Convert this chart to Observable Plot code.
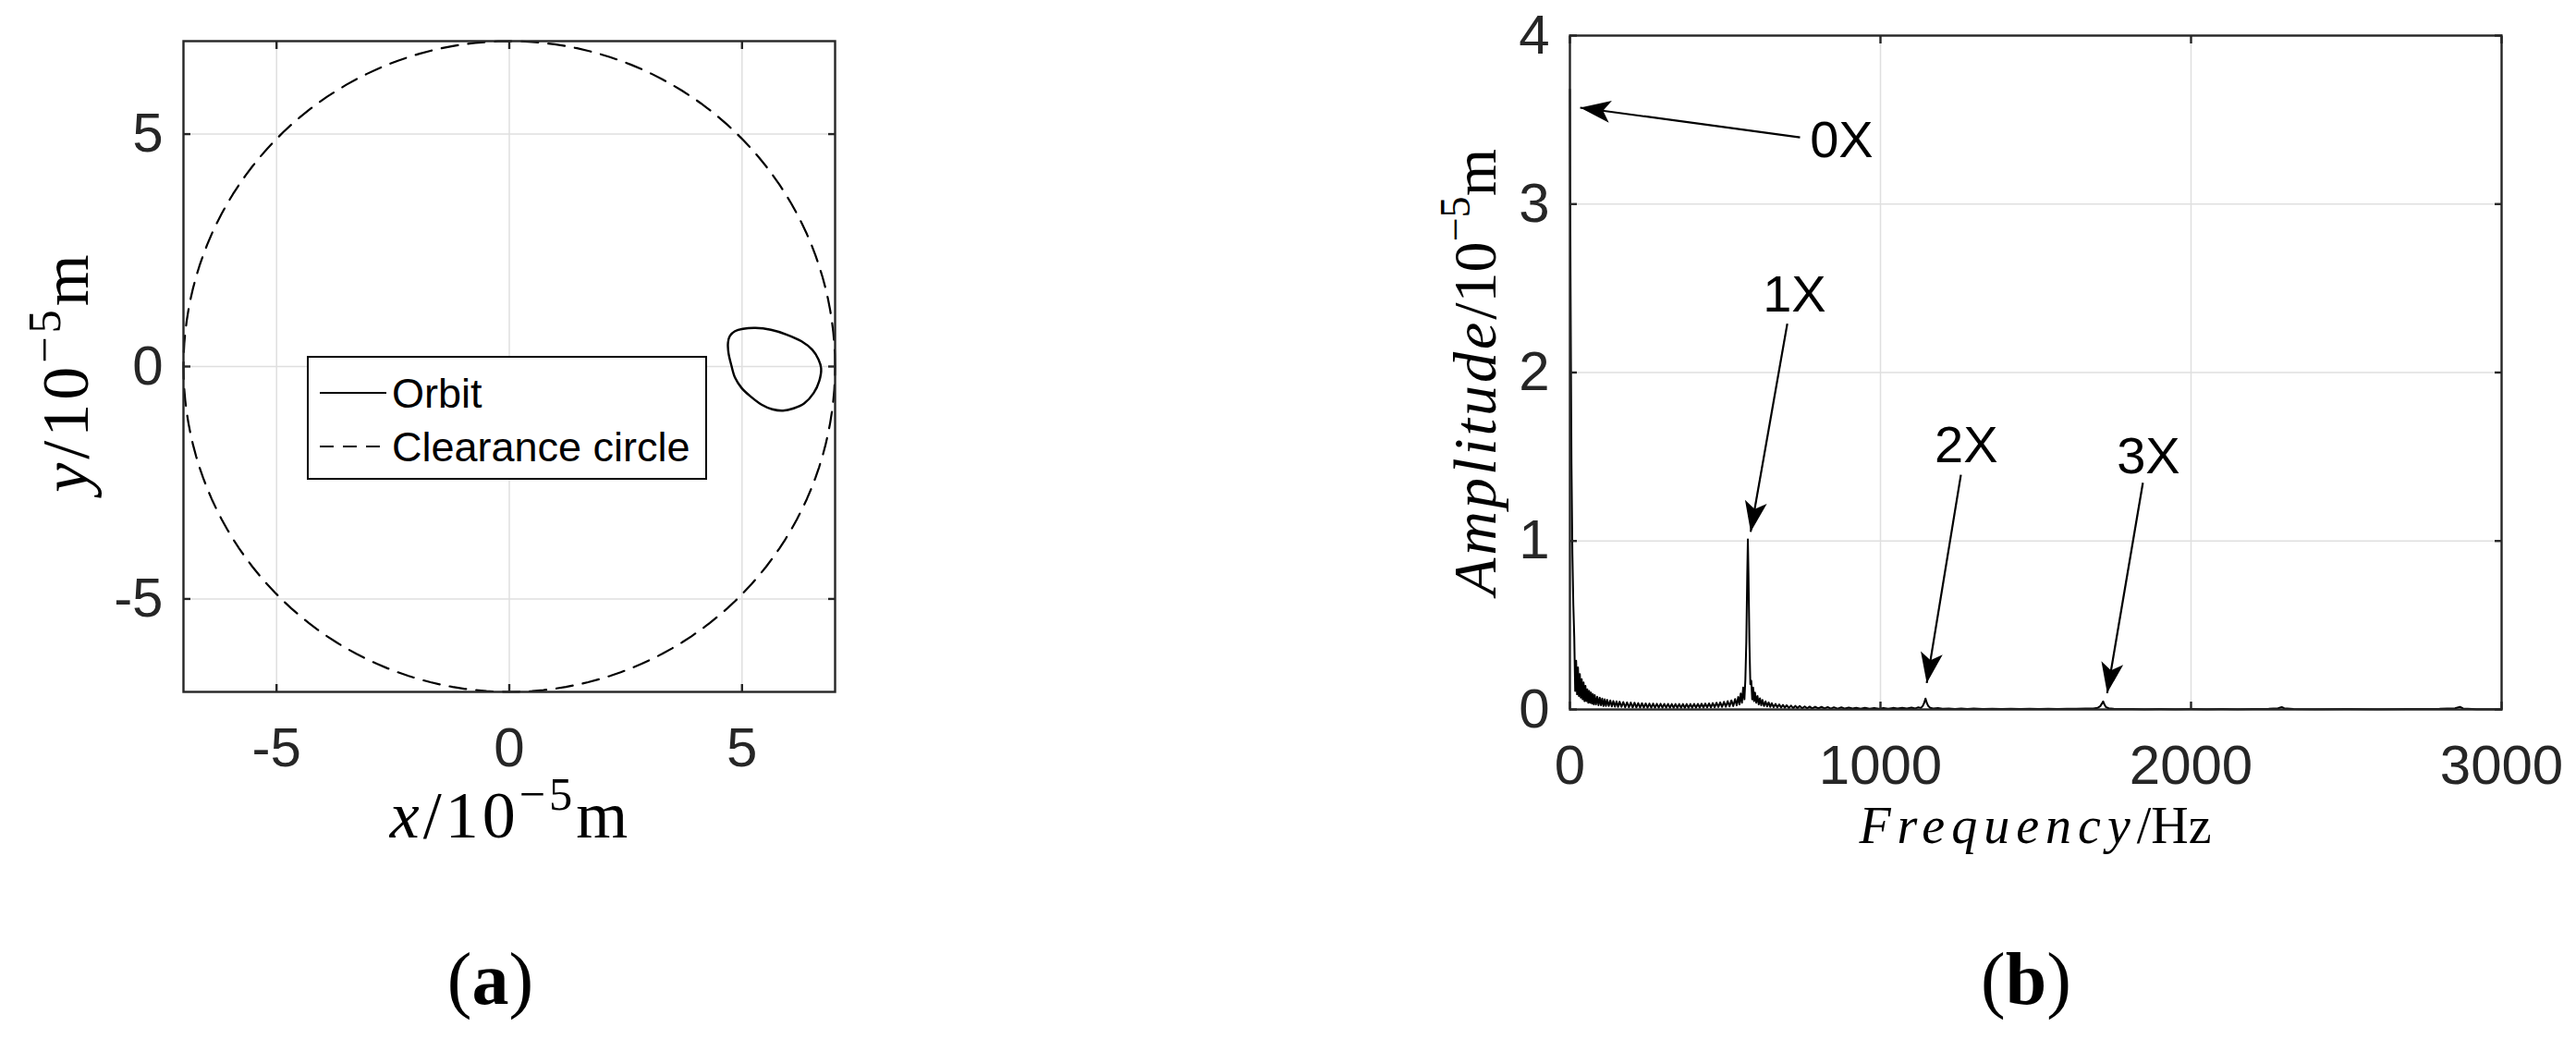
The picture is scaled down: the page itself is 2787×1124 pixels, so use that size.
<!DOCTYPE html>
<html><head><meta charset="utf-8">
<script src="https://cdn.jsdelivr.net/npm/d3@7"></script>
<script src="https://cdn.jsdelivr.net/npm/@observablehq/plot@0.6"></script>
<style>
body{margin:0;background:#fff;}
#fig{position:relative;width:2787px;height:1124px;background:#fff;overflow:hidden;}
#fig > svg{position:absolute;}
</style></head><body><div id="fig"></div>
<script>
// ---------------- data ----------------
// (a) rotor orbit (x, y in 1e-5 m)
const orbitX = [4.70, 4.74, 4.85, 5.02, 5.29, 5.62, 5.95, 6.28, 6.51, 6.64, 6.70, 6.66, 6.54, 6.34, 6.11, 5.88, 5.65, 5.42, 5.19, 4.99, 4.85, 4.77, 4.71];
const orbitY = [0.52, 0.66, 0.76, 0.81, 0.83, 0.79, 0.69, 0.54, 0.36, 0.16, -0.04, -0.31, -0.57, -0.79, -0.90, -0.95, -0.92, -0.82, -0.65, -0.46, -0.24, 0.03, 0.29];
const clearanceRadius = 7;
const ticksA = [-5, 0, 5];
const domainA = [-7, 7];
const legendLabels = ["Orbit", "Clearance circle"];

// (b) amplitude spectrum (Hz, 1e-5 m)
const specFreq = [0,2,5,8,11,14,17,20,23,26,29,32,35,38,41,44,47,50,53,56,59,62,65,68,71,74,77,80,84,88,92,96,100,104,108,112,116,120,125,130,135,140,145,150,155,160,166,172,178,184,190,196,202,208,214,220,226,232,238,244,250,256,262,268,274,280,286,292,298,304,310,316,322,328,334,340,346,352,358,364,370,376,382,388,394,400,406,412,418,424,430,436,442,448,454,460,466,472,478,484,490,496,502,508,514,520,526,532,537,542,546,550,554,558,562,565,568,571,573,575,578,581,584,587,590,593,596,600,604,608,612,616,620,625,630,635,640,645,650,656,662,668,674,680,686,692,698,705,712,719,726,733,740,748,756,764,772,780,790,800,810,820,830,840,850,862,874,886,898,910,922,936,950,965,980,995,1010,1025,1040,1055,1070,1085,1100,1112,1122,1130,1136,1141,1145,1149,1154,1160,1170,1185,1200,1220,1240,1260,1280,1300,1330,1360,1390,1420,1450,1480,1510,1540,1570,1600,1630,1660,1685,1700,1708,1713,1717,1721,1726,1735,1750,1780,1810,1850,1900,1950,2000,2050,2100,2150,2200,2250,2280,2292,2300,2330,2400,2500,2600,2700,2800,2850,2866,2876,2920,3000];
const specAmp = [3.68,2.58,1.46,0.92,0.62,0.43,0.11,0.29,0.09,0.25,0.08,0.21,0.07,0.18,0.06,0.16,0.05,0.14,0.05,0.12,0.04,0.11,0.04,0.10,0.035,0.09,0.03,0.085,0.03,0.075,0.025,0.07,0.025,0.065,0.02,0.06,0.02,0.057,0.02,0.054,0.018,0.05,0.016,0.048,0.015,0.046,0.015,0.044,0.013,0.042,0.013,0.041,0.012,0.04,0.012,0.038,0.011,0.037,0.011,0.036,0.01,0.035,0.01,0.035,0.01,0.034,0.01,0.034,0.01,0.033,0.01,0.033,0.01,0.032,0.01,0.032,0.01,0.032,0.01,0.032,0.01,0.032,0.01,0.032,0.01,0.033,0.01,0.033,0.011,0.034,0.011,0.035,0.012,0.036,0.012,0.038,0.013,0.04,0.014,0.042,0.015,0.045,0.016,0.049,0.018,0.054,0.02,0.062,0.024,0.074,0.03,0.095,0.04,0.13,0.06,0.18,0.4,0.8,1.01,0.8,0.4,0.15,0.17,0.06,0.13,0.05,0.1,0.04,0.08,0.03,0.066,0.025,0.056,0.02,0.048,0.018,0.042,0.015,0.037,0.013,0.033,0.012,0.03,0.011,0.027,0.01,0.025,0.009,0.023,0.008,0.021,0.008,0.02,0.007,0.018,0.007,0.017,0.006,0.016,0.006,0.015,0.006,0.014,0.005,0.013,0.005,0.012,0.005,0.011,0.005,0.01,0.004,0.01,0.004,0.009,0.004,0.009,0.004,0.009,0.005,0.01,0.005,0.011,0.006,0.013,0.009,0.02,0.04,0.065,0.04,0.02,0.01,0.006,0.008,0.004,0.006,0.003,0.005,0.003,0.005,0.003,0.004,0.003,0.004,0.003,0.004,0.003,0.004,0.003,0.004,0.004,0.005,0.006,0.01,0.02,0.035,0.048,0.03,0.014,0.007,0.004,0.003,0.003,0.002,0.003,0.002,0.003,0.002,0.003,0.002,0.003,0.004,0.007,0.014,0.007,0.003,0.002,0.003,0.002,0.003,0.004,0.007,0.015,0.006,0.002,0.002];
const freqTicks = [0, 1000, 2000, 3000];
const ampTicks = [0, 1, 2, 3, 4];
const freqDomain = [0, 3000];
const ampDomain = [0, 4];

// harmonic annotations (data units)
const harmLabels = ["0X", "1X", "2X", "3X"];
const harmTipF  = [33, 582, 1149, 1730];
const harmTipA  = [3.572, 1.054, 0.157, 0.097];
const harmTailF = [741, 700, 1259, 1845];
const harmTailA = [3.396, 2.29, 1.393, 1.346];
const harmTextF = [773, 723, 1276, 1863];
const harmTextA = [3.376, 2.46, 1.565, 1.50];
const harmAnchor = ["start", "middle", "middle", "middle"];

const panelCaptions = ["a", "b"];

// ---------------- styling ----------------
const INK = "#262626", GRID = "#dfdfdf";
const SANS = "'Liberation Sans', Arial, Helvetica, sans-serif";
const SERIF = "'Liberation Serif', 'Times New Roman', serif";
const fig = document.getElementById("fig");

function boxMarks(xT, yT) {
  const fmt = d => String(d);
  return [
    Plot.frame({stroke: INK, strokeWidth: 2.4}),
    Plot.axisX({ticks: xT, anchor: "bottom", tickSize: 8, dy: -8, fill: "none", label: null, stroke: INK, strokeWidth: 2.4}),
    Plot.axisX({ticks: xT, anchor: "top", tickSize: 8, dy: 8, fill: "none", label: null, stroke: INK, strokeWidth: 2.4}),
    Plot.axisY({ticks: yT, anchor: "left", tickSize: 8, dx: 8, fill: "none", label: null, stroke: INK, strokeWidth: 2.4}),
    Plot.axisY({ticks: yT, anchor: "right", tickSize: 8, dx: -8, fill: "none", label: null, stroke: INK, strokeWidth: 2.4}),
    Plot.axisX({ticks: xT, anchor: "bottom", tickSize: 0, tickPadding: 38, label: null, tickFormat: fmt, fill: INK}),
    Plot.axisY({ticks: yT, anchor: "left", tickSize: 0, tickPadding: 22, label: null, tickFormat: fmt, fill: INK})
  ];
}
function gridMarks(xT, yT) {
  return [
    Plot.gridX({ticks: xT, stroke: GRID, strokeOpacity: 1, strokeWidth: 1.5}),
    Plot.gridY({ticks: yT, stroke: GRID, strokeOpacity: 1, strokeWidth: 1.5})
  ];
}
function mathLabel(svg, x, y, rotate, size, parts, ls) {
  const t = d3.select(svg).append("text")
    .attr("transform", `translate(${x},${y}) rotate(${rotate})`)
    .attr("text-anchor", "middle").attr("font-family", SERIF)
    .attr("font-size", size).attr("fill", "black");
  if (ls) t.attr("letter-spacing", ls);
  for (const p of parts) {
    const s = t.append("tspan").text(p.text);
    if (p.italic) s.attr("font-style", "italic");
    if (p.ls) s.attr("letter-spacing", p.ls);
    if (p.sup) s.attr("font-size", size * 0.7).attr("dy", -size * 0.42);
    if (p.unsup) s.attr("dy", size * 0.42);
  }
}

// ---------------- panel (a) ----------------
const A = {w: 950, h: 950, ml: 198, mr: 47, mt: 44, mb: 202};
const orbit = orbitX.map((x, i) => ({x, y: orbitY[i]}));
const circle = d3.range(0, 361, 2).map(a => ({x: clearanceRadius * Math.cos(a * Math.PI / 180), y: clearanceRadius * Math.sin(a * Math.PI / 180)}));

const svgA = Plot.plot({
  width: A.w, height: A.h,
  marginLeft: A.ml, marginRight: A.mr, marginTop: A.mt, marginBottom: A.mb,
  x: {domain: domainA}, y: {domain: domainA},
  style: {fontFamily: SANS, fontSize: "60px", color: INK, background: "transparent"},
  marks: [
    ...gridMarks(ticksA, ticksA),
    Plot.line(circle, {x: "x", y: "y", stroke: "black", strokeWidth: 2.2, strokeDasharray: "18,11"}),
    Plot.line(orbit, {x: "x", y: "y", curve: "catmull-rom-closed", stroke: "black", strokeWidth: 2.4}),
    ...boxMarks(ticksA, ticksA)
  ]
});
svgA.style.left = "0px"; svgA.style.top = "0px";
fig.appendChild(svgA);

// legend
{
  const g = d3.select(svgA).append("g").attr("font-family", SANS).attr("font-size", 45)
    .attr("fill", "black").attr("text-anchor", "start");
  g.append("rect").attr("x", 333).attr("y", 386).attr("width", 431).attr("height", 132)
    .attr("fill", "white").attr("stroke", "black").attr("stroke-width", 2);
  const rows = [425, 483];
  legendLabels.forEach((lab, i) => {
    g.append("line").attr("x1", 346).attr("x2", 418).attr("y1", rows[i]).attr("y2", rows[i])
      .attr("stroke", "black").attr("stroke-width", 2.2).attr("stroke-dasharray", i ? "15,10" : null);
    g.append("text").attr("x", 424).attr("y", rows[i]).attr("dy", "0.35em")
      .attr("text-anchor", "start").style("font-size", "45px").text(lab);
  });
}
const cxA = (A.ml + A.w - A.mr) / 2, cyA = (A.mt + A.h - A.mb) / 2;
mathLabel(svgA, cxA + 2, 906, 0, 72, [{text: "x", italic: true}, {text: "/10"}, {text: "\u22125", sup: true}, {text: "m", unsup: true}], 4);
mathLabel(svgA, 95, cyA + 6, -90, 72, [{text: "y", italic: true}, {text: "/10"}, {text: "\u22125", sup: true}, {text: "m", unsup: true}], 4);

// ---------------- panel (b) ----------------
const B = {left: 1450, w: 1337, h: 950, ml: 248, mr: 81, mt: 38, mb: 183};
const spec = specFreq.map((f, i) => ({f, a: specAmp[i]}));
const ann = harmLabels.map((lab, i) => ({lab, tf: harmTipF[i], ta: harmTipA[i], sf: harmTailF[i], sa: harmTailA[i], xf: harmTextF[i], xa: harmTextA[i], anchor: harmAnchor[i]}));

const svgB = Plot.plot({
  width: B.w, height: B.h,
  marginLeft: B.ml, marginRight: B.mr, marginTop: B.mt, marginBottom: B.mb,
  x: {domain: freqDomain}, y: {domain: ampDomain},
  style: {fontFamily: SANS, fontSize: "60px", color: INK, background: "transparent"},
  marks: [
    ...gridMarks(freqTicks.slice(1, -1), ampTicks.slice(1, -1)),
    Plot.line(spec, {x: "f", y: "a", stroke: "black", strokeWidth: 2}),
    Plot.link(ann, {x1: "sf", y1: "sa", x2: "tf", y2: "ta", stroke: "black", strokeWidth: 2.2}),
    Plot.text(ann.filter(d => d.anchor === "start"), {x: "xf", y: "xa", text: "lab", textAnchor: "start", fill: "black", fontSize: 56}),
    Plot.text(ann.filter(d => d.anchor !== "start"), {x: "xf", y: "xa", text: "lab", textAnchor: "middle", fill: "black", fontSize: 56}),
    ...boxMarks(freqTicks, ampTicks)
  ]
});
svgB.style.left = B.left + "px"; svgB.style.top = "0px";
fig.appendChild(svgB);

// filled MATLAB-like arrow heads on the annotation links
{
  const s = d3.select(svgB);
  const defs = s.insert("defs", ":first-child");
  defs.append("marker").attr("id", "headB").attr("markerUnits", "userSpaceOnUse")
    .attr("viewBox", "-34 -14 36 28").attr("markerWidth", 36).attr("markerHeight", 28)
    .attr("refX", 0).attr("refY", 0).attr("orient", "auto")
    .append("path").attr("d", "M0,0L-33,-12L-25,0L-33,12Z").attr("fill", "black");
  s.selectAll('g[aria-label="link"] path').attr("marker-end", "url(#headB)");
}
const cxB = (B.ml + B.w - B.mr) / 2, cyB = (B.mt + B.h - B.mb) / 2;
mathLabel(svgB, cxB, 912, 0, 56, [{text: "Frequency", italic: true, ls: 7}, {text: "/Hz"}]);
mathLabel(svgB, 168, cyB, -90, 66, [{text: "Amplitude", italic: true, ls: 3}, {text: "/10"}, {text: "\u22125", sup: true}, {text: "m", unsup: true}]);

// ---------------- captions ----------------
{
  const cap = d3.create("svg").attr("width", 2787).attr("height", 1124)
    .style("left", "0px").style("top", "0px");
  const centers = [cxA, B.left + cxB];
  panelCaptions.forEach((c, i) => {
    const t = cap.append("text").attr("x", centers[i] - (i ? 10 : 20)).attr("y", 1086)
      .attr("text-anchor", "middle").attr("font-family", SERIF).attr("font-size", 80).attr("fill", "black");
    t.append("tspan").text("(");
    t.append("tspan").attr("font-weight", "bold").text(c);
    t.append("tspan").text(")");
  });
  fig.insertBefore(cap.node(), fig.firstChild);
}
</script>
</body></html>
